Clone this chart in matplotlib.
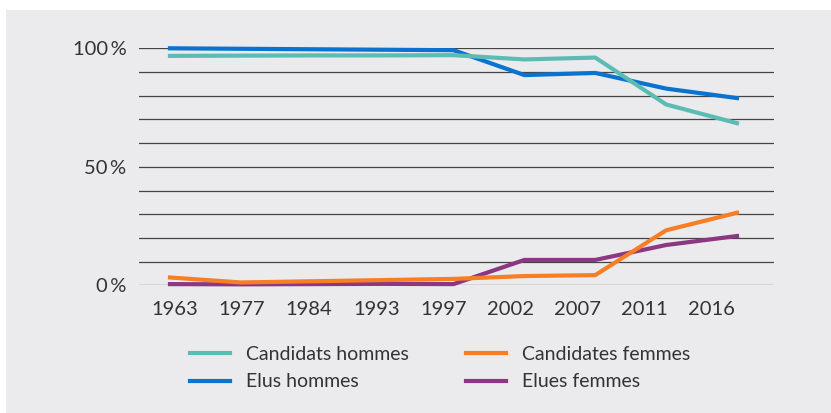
import numpy as np
import matplotlib
matplotlib.use("Agg")
import matplotlib.pyplot as plt
from matplotlib.patches import Rectangle

plt.rcParams['font.family'] = ['Lato', 'DejaVu Sans']

# data (share of seats / candidates, %)
years = ['1963', '1977', '1984', '1993', '1997', '2002', '2007', '2011', '2016']
candidats_hommes = [96.8, 96.9, 97.0, 97.0, 97.1, 95.3, 96.1, 76.3, 68.4]
elus_hommes = [100.0, 99.8, 99.6, 99.4, 99.2, 88.7, 89.6, 83.0, 79.0]
candidates_femmes = [3.3, 1.2, 1.7, 2.2, 2.7, 3.9, 4.3, 23.2, 30.6]
elues_femmes = [0.5, 0.4, 0.5, 0.6, 0.5, 10.7, 10.7, 17.0, 20.8]

teal = '#5bbcb4'
blue = '#0a72cf'
orange = '#f77e24'
purple = '#8c3782'
txt = '#333333'

W, H = 831, 413
fig = plt.figure(figsize=(W / 100, H / 100), dpi=100)
fig.patch.set_facecolor('white')
# grey panel behind everything
fig.patches.append(Rectangle((6 / W, 0), 1 - 6 / W, 1 - 10 / H, transform=fig.transFigure,
                             facecolor='#ebebed', edgecolor='none', zorder=-10))

# axes placed so that gridlines run from x=139 to 774 px
ax = fig.add_axes([139 / W, 1 - 285.3 / H, (774 - 139) / W, 237 / H])
ax.set_facecolor('none')
x = np.arange(len(years))
step = 70.9
ax.set_xlim(-(170 - 139) / step, len(years) - 1 + (774 - 737) / step)
ax.set_ylim(0, 100)

lw = 3.0
l_eh, = ax.plot(x, elus_hommes, color=blue, lw=lw, clip_on=False, zorder=3)
l_ch, = ax.plot(x, candidats_hommes, color=teal, lw=lw, clip_on=False, zorder=4)
l_ef, = ax.plot(x, elues_femmes, color=purple, lw=lw, clip_on=False, zorder=5)
l_cf, = ax.plot(x, candidates_femmes, color=orange, lw=lw, clip_on=False, zorder=6)

# horizontal grid every 10 %
ax.set_yticks(np.arange(0, 101, 10))
ax.set_yticklabels(['%d\u2009%%' % v if v % 50 == 0 else '' for v in range(0, 101, 10)])
ax.yaxis.grid(True, color='#444444', lw=0.9)
ax.set_axisbelow(True)

# year labels sit on their own spacing under the plot
tick_pos = (np.linspace(175, 712, len(years)) - 170) / step
ax.set_xticks(tick_pos)
ax.set_xticklabels(years)

ax.tick_params(axis='both', length=0, labelsize=14.5, labelcolor=txt)
ax.tick_params(axis='y', pad=9)
ax.tick_params(axis='x', pad=11)
for s in ax.spines.values():
    s.set_visible(False)

fig.legend([l_ch, l_eh, l_cf, l_ef],
           ['Candidats hommes', 'Elus hommes', 'Candidates femmes', 'Elues femmes'],
           ncol=2, loc='center left', bbox_to_anchor=(190 / W, 1 - 368 / H),
           frameon=False, fontsize=14, handlelength=2.05, handletextpad=0.85,
           columnspacing=2.9, labelspacing=0.55, borderpad=0, borderaxespad=0,
           labelcolor=txt)

fig.savefig('out.png', dpi=100)
